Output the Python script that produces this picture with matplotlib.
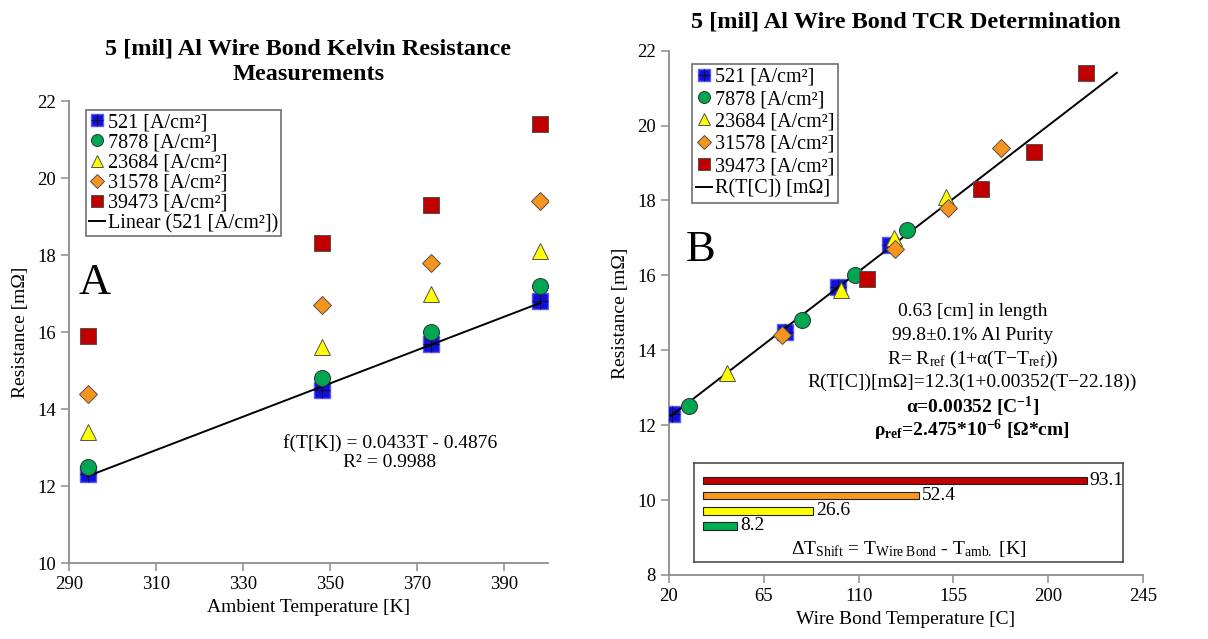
import matplotlib.pyplot as plt
from matplotlib.legend_handler import HandlerTuple

plt.rcParams['font.family'] = 'Liberation Serif'
plt.rcParams['mathtext.fontset'] = 'custom'
plt.rcParams['mathtext.rm'] = 'Liberation Serif'
plt.rcParams['mathtext.it'] = 'Liberation Serif:italic'
plt.rcParams['mathtext.bf'] = 'Liberation Serif:bold'

# ambient temperature [K]
t_amb = [294.3, 348.2, 373.2, 398.2]
# wire bond temperature [C] for each current density
t_wb_521 = [21.2, 75.0, 100.0, 125.0]
t_wb_7878 = [29.3, 83.2, 108.2, 133.2]
t_wb_23684 = [47.7, 101.6, 126.6, 151.6]
t_wb_31578 = [73.5, 127.4, 152.4, 177.4]
t_wb_39473 = [114.2, 168.1, 193.1, 218.1]

# resistance [mOhm]
r_521 = [12.3, 14.5, 15.7, 16.8]
r_7878 = [12.5, 14.8, 16.0, 17.2]
r_23684 = [13.4, 15.6, 17.0, 18.1]
r_31578 = [14.4, 16.7, 17.8, 19.4]
r_39473 = [15.9, 18.3, 19.3, 21.4]

labels = ['521 [A/cm²]', '7878 [A/cm²]', '23684 [A/cm²]', '31578 [A/cm²]', '39473 [A/cm²]']

# fits
fit_k = [294.3, 398.2]
fit_c = [21.0, 232.6]
slope_k, icpt_k = 0.0433, -0.4876
r_ref, alpha, t_ref = 12.3, 0.00352, 22.18

# temperature shift
shift_vals = [8.2, 26.6, 52.4, 93.1]
shift_cols = ['#00B050', '#FFFF00', '#F79A1E', '#C00000']

c_blue = '#1010D8'
c_green = '#00A651'
c_yellow = '#FFFF00'
c_orange = '#F7941D'
c_red = '#C00000'
spine_col = '#8C8C8C'

fig = plt.figure(figsize=(12.08, 6.39), dpi=100)
ax1 = fig.add_axes([0.0571, 0.1189, 0.3965, 0.723])
ax2 = fig.add_axes([0.5538, 0.1002, 0.3924, 0.8205])


def style(ax):
    for s in ['top', 'right']:
        ax.spines[s].set_visible(False)
    for s in ['left', 'bottom']:
        ax.spines[s].set_color(spine_col)
        ax.spines[s].set_linewidth(1.3)
    ax.tick_params(direction='out', length=6, width=1.1, color=spine_col, labelsize=13.5)


def draw(ax, xs, fit_x, fit_y, fit_label):
    sq = ax.plot(xs[0], r_521, 's', ms=11.5, mfc=c_blue, mec='#5a5aff', mew=1.0, ls='none', zorder=3)[0]
    pl = ax.plot(xs[0], r_521, '+', ms=11, mec='#101040', mew=0.9, ls='none', zorder=3.1)[0]
    ln = ax.plot(fit_x, fit_y, '-', color='black', lw=1.4, zorder=3.5)[0]
    gr = ax.plot(xs[1], r_7878, 'o', ms=11.5, mfc=c_green, mec='#303030', mew=0.7, ls='none', zorder=4)[0]
    ye = ax.plot(xs[2], r_23684, '^', ms=12, mfc=c_yellow, mec='#505050', mew=0.7, ls='none', zorder=4)[0]
    orr = ax.plot(xs[3], r_31578, 'D', ms=9, mfc=c_orange, mec='#505050', mew=0.7, ls='none', zorder=4)[0]
    rd = ax.plot(xs[4], r_39473, 's', ms=11.5, mfc=c_red, mec='#505050', mew=0.7, ls='none', zorder=4)[0]
    handles = [(sq, pl), gr, ye, orr, rd, ln]
    return handles, labels + [fit_label]


def legend(ax, h, l, anchor, spacing, pad=0.15):
    leg = ax.legend(h, l, loc='upper left', bbox_to_anchor=anchor, fontsize=14.5,
                    handler_map={tuple: HandlerTuple(ndivide=1)},
                    markerscale=0.75, handlelength=0.8, handletextpad=0.15,
                    labelspacing=spacing, borderpad=pad, borderaxespad=0.0,
                    fancybox=False, edgecolor='#707070', framealpha=1)
    leg.get_frame().set_linewidth(1.2)
    return leg


# ---- left: ambient temperature
style(ax1)
x_left = [t_amb] * 5
fy1 = [slope_k * t + icpt_k for t in fit_k]
h, l = draw(ax1, x_left, fit_k, fy1, 'Linear (521 [A/cm²])')
ax1.set_xlim(290, 400)
ax1.set_ylim(10, 22)
ax1.set_xticks(range(290, 400, 20))
ax1.set_yticks(range(10, 23, 2))
ax1.set_xlabel('Ambient Temperature [K]', fontsize=14)
ax1.set_ylabel('Resistance [mΩ]', fontsize=14, labelpad=6)
ax1.set_title('5 [mil] Al Wire Bond Kelvin Resistance\nMeasurements',
              fontsize=17.5, fontweight='bold', pad=15, linespacing=1.3)
legend(ax1, h, l, (0.035, 0.98), 0.05)
ax1.text(0.02, 0.606, 'A', transform=ax1.transAxes, fontsize=32, va='center')
ax1.text(0.67, 0.24, 'f(T[K]) = 0.0433T - 0.4876\nR² = 0.9988', transform=ax1.transAxes,
         fontsize=14, ha='center', va='center', linespacing=1.15)

# ---- right: wire bond temperature
style(ax2)
x_right = [t_wb_521, t_wb_7878, t_wb_23684, t_wb_31578, t_wb_39473]
fy2 = [r_ref * (1 + alpha * (t - t_ref)) for t in fit_c]
h, l = draw(ax2, x_right, fit_c, fy2, 'R(T[C]) [mΩ]')
ax2.set_xlim(20, 245)
ax2.set_ylim(8, 22)
ax2.set_xticks(range(20, 246, 45))
ax2.set_yticks(range(8, 23, 2))
ax2.set_xlabel('Wire Bond Temperature [C]', fontsize=14)
ax2.set_ylabel('Resistance [mΩ]', fontsize=14, labelpad=6)
ax2.set_title('5 [mil] Al Wire Bond TCR Determination', fontsize=17.5, fontweight='bold', pad=17)
legend(ax2, h, l, (0.048, 0.975), 0.16, pad=0.2)
ax2.text(0.035, 0.62, 'B', transform=ax2.transAxes, fontsize=32, va='center')

cx = 0.64
lines_txt = [
    ('0.63 [cm] in length', 'normal'),
    ('99.8±0.1% Al Purity', 'normal'),
    (r'R= R$_{\mathrm{ref}}$ (1+α(T−T$_{\mathrm{ref}}$))', 'normal'),
    ('R(T[C])[mΩ]=12.3(1+0.00352(T−22.18))', 'normal'),
    (r'α=0.00352 [C$^{\mathbf{-1}}$]', 'bold'),
    (r'ρ$_{\mathbf{ref}}$=2.475*10$^{\mathbf{-6}}$ [Ω*cm]', 'bold'),
]
y0 = 0.503
for i, (t, w) in enumerate(lines_txt):
    ax2.text(cx, y0 - i * 0.0455, t, transform=ax2.transAxes, fontsize=14,
             ha='center', va='center', fontweight=w)

# ---- inset: temperature shift bars
ax3 = fig.add_axes([0.5745, 0.1205, 0.355, 0.155])
ax3.set_facecolor('white')
pos = list(range(len(shift_vals)))
ax3.barh(pos, shift_vals, height=0.47, color=shift_cols, edgecolor='#202020', linewidth=0.8)
for p, v in zip(pos, shift_vals):
    ax3.text(v + 0.8, p, f'{v}', va='center', ha='left', fontsize=14)
ax3.set_xlim(-2.18, 101.9)
ax3.set_ylim(-2.4, 4.2)
ax3.set_xticks([])
ax3.set_yticks([])
for s in ax3.spines.values():
    s.set_color('#404040')
    s.set_linewidth(1.1)
ax3.text(0.5, 0.13, r'ΔT$_{\mathrm{Shift}}$ = T$_{\mathrm{Wire\ Bond}}$ - T$_{\mathrm{amb.}}$ [K]',
         transform=ax3.transAxes, ha='center', va='center', fontsize=14)

fig.savefig('out.png', dpi=100)
